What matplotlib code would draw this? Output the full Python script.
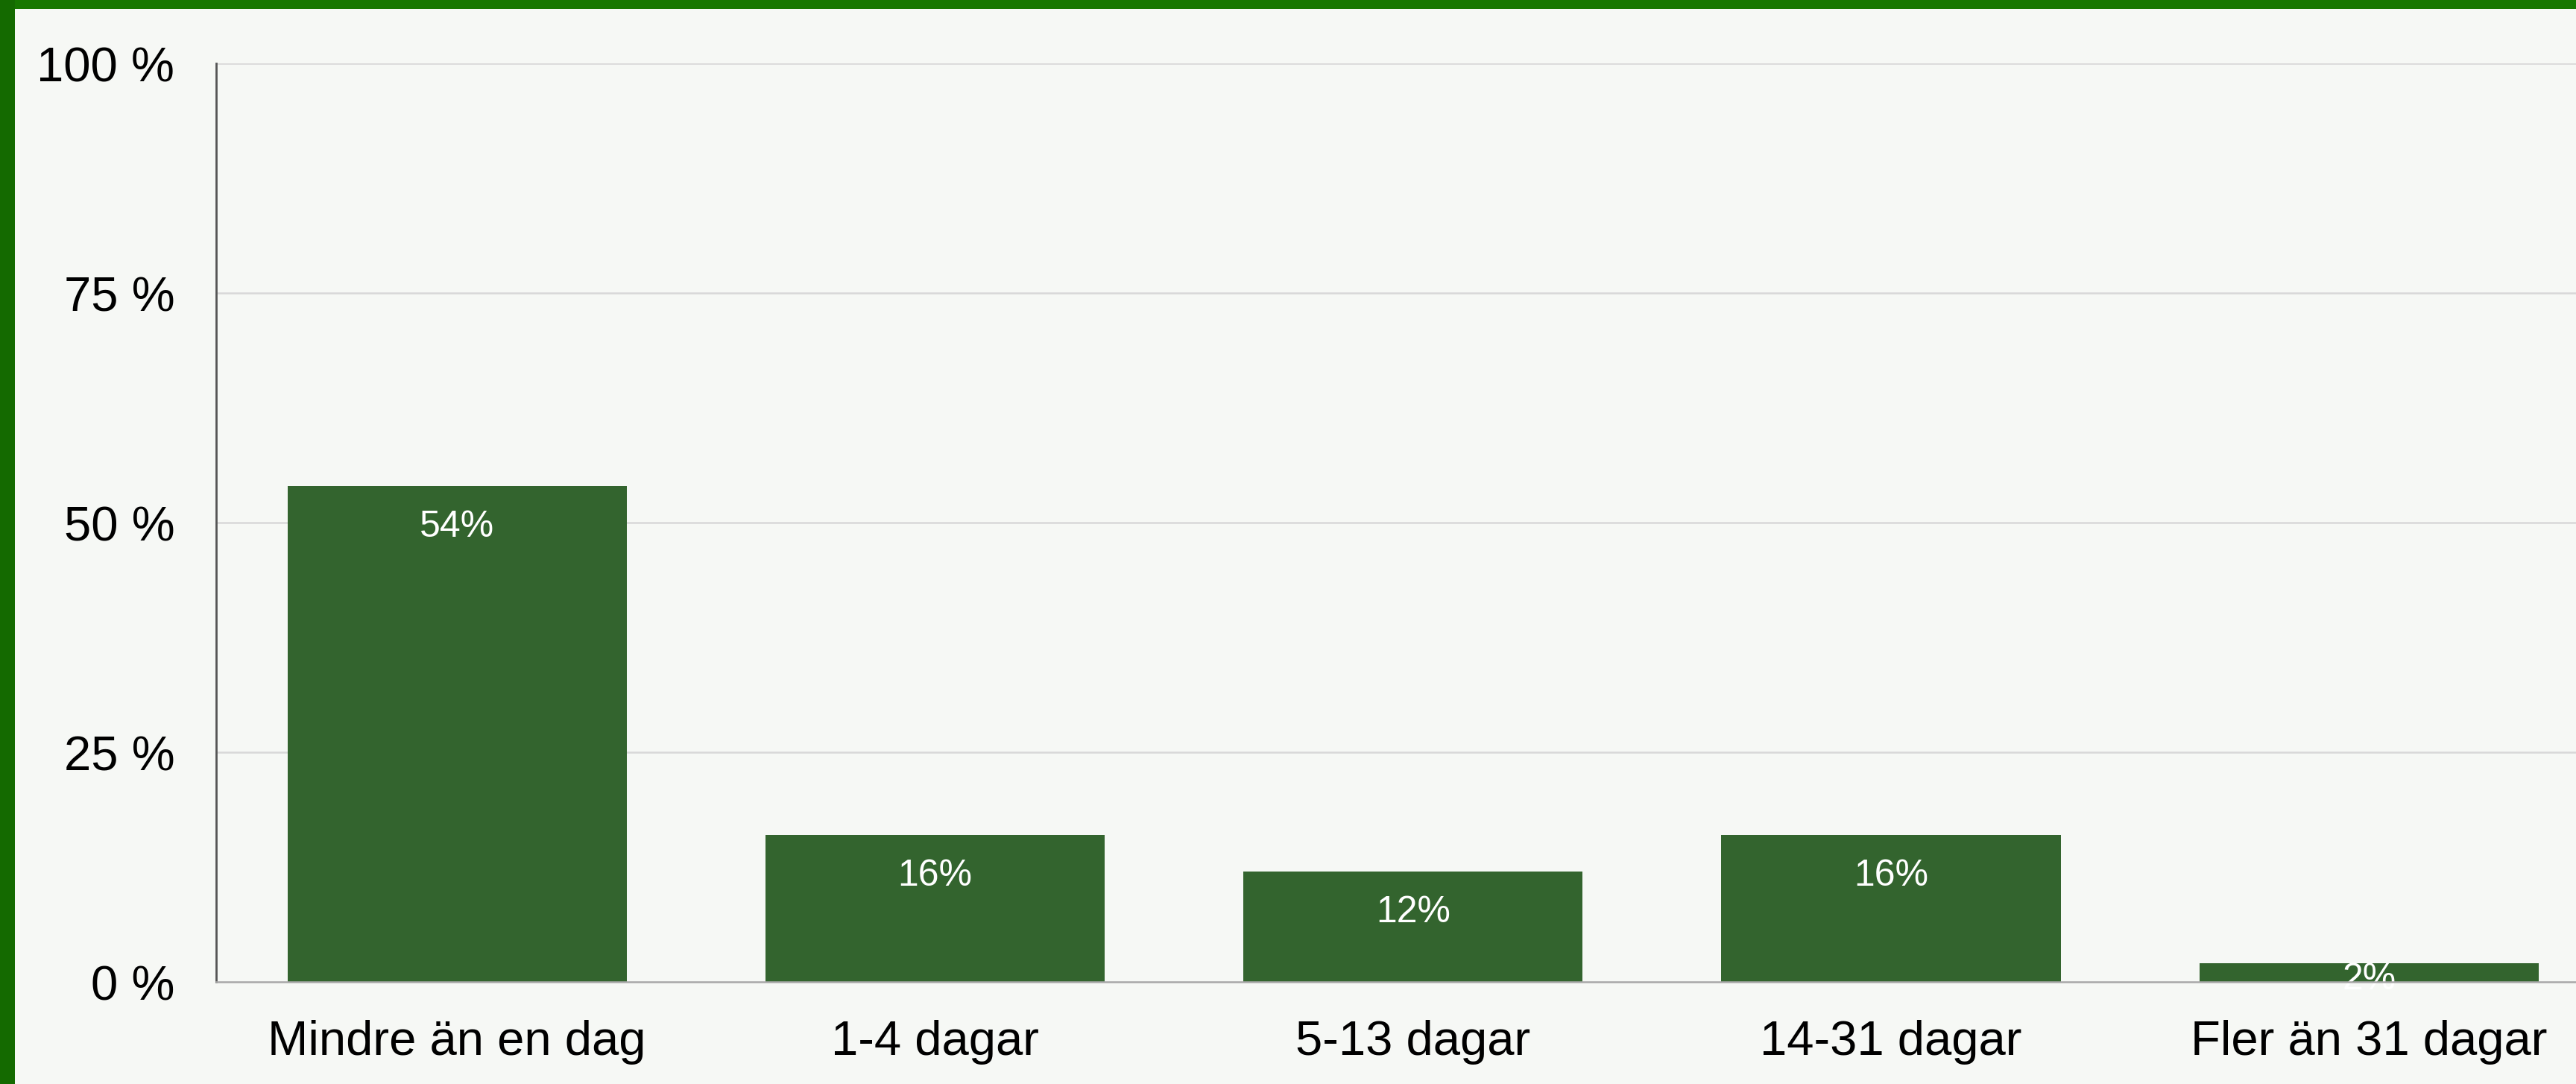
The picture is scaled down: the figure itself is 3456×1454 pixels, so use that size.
import matplotlib
matplotlib.use('Agg')
import matplotlib.pyplot as plt
from matplotlib.patches import Rectangle

# data
categories = ['Mindre än en dag', '1-4 dagar', '5-13 dagar', '14-31 dagar', 'Fler än 31 dagar']
values = [54, 16, 12, 16, 2]
yticks = [0, 25, 50, 75, 100]
ytick_labels = ['0 %', '25 %', '50 %', '75 %', '100 %']

plt.rcParams['font.family'] = ['Liberation Sans', 'DejaVu Sans']

bg = '#f6f8f5'
bar_color = '#33642e'

fig = plt.figure(figsize=(34.56, 14.549), dpi=100, facecolor=bg)

# green frame at top and left
fig.patches.append(Rectangle((0, 1 - 13 / 1455), 1, 13 / 1455, transform=fig.transFigure,
                             facecolor='#177700', edgecolor='none', zorder=0))
fig.patches.append(Rectangle((0, 0), 20 / 3456, 1, transform=fig.transFigure,
                             facecolor='#146a00', edgecolor='none', zorder=0))

ax = fig.add_axes([290 / 3456, 1 - 1318 / 1455, 1 - 290 / 3456, (1318 - 86) / 1455])
ax.set_facecolor(bg)

x = range(len(categories))
ax.bar(x, values, width=0.71, color=bar_color, zorder=3)

# value labels just inside the top of each bar
for i, v in enumerate(values):
    ax.text(i, max(v - 4.4, 0.3), f'{v}%', ha='center', va='center',
            color='white', fontsize=36, zorder=4)

ax.set_xlim(-0.504, 4.433)
ax.set_ylim(0, 100)
ax.set_yticks(yticks)
ax.set_yticklabels(ytick_labels)
ax.set_xticks(list(x))
ax.set_xticklabels(categories)
ax.tick_params(axis='y', length=0, pad=40, labelsize=47, colors='black')
ax.tick_params(axis='x', length=0, pad=36, labelsize=47, colors='black')

for t in yticks[1:]:
    ax.axhline(t, color='#d8d8d8', lw=1.8, zorder=1)

ax.spines['top'].set_visible(False)
ax.spines['right'].set_visible(False)
ax.spines['left'].set_color('#555555')
ax.spines['left'].set_linewidth(2.0)
ax.spines['bottom'].set_color('#a8a8a8')
ax.spines['bottom'].set_linewidth(1.8)
ax.spines['bottom'].set_zorder(5)

fig.savefig('out.png', dpi=100, facecolor=bg)
